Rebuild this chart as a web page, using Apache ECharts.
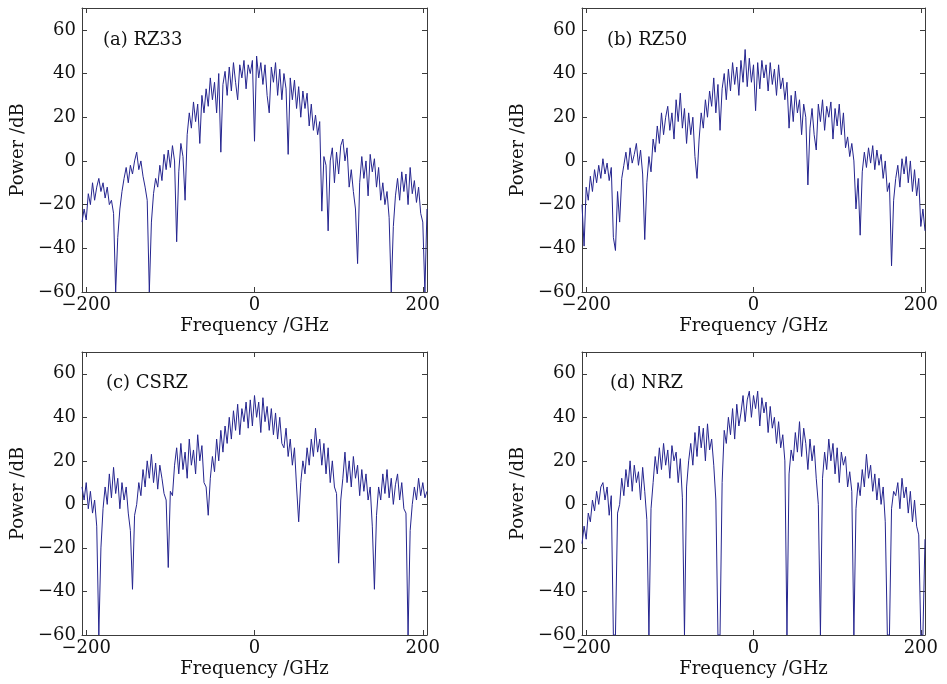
<!DOCTYPE html>
<html>
<head>
<meta charset="utf-8">
<script src="https://cdn.jsdelivr.net/npm/echarts@6/dist/echarts.min.js"></script>
<style>
  html, body { margin: 0; padding: 0; background: #fff; }
  #chart { width: 947px; height: 684px; }
</style>
</head>
<body>
<div id="chart"></div>
<script>
// frequency grid of every trace: -205 GHz .. 205 GHz, 2.5 GHz apart
const freqStart = -205
const freqStep = 2.5

// power (dB)
const rz33 = [
  -28, -22, -27, -15, -20, -10, -18, -12, -8, -14,
  -10, -17, -12, -20, -18, -24, -60, -35, -22, -14,
  -8, -3, -10, -2, -6, 0, 4, -4, 0, -7,
  -12, -18, -60, -28, -15, -8, -12, -2, -9, 3,
  -4, 5, -3, 7, 0, -37, -5, 8, 2, -18,
  12, 22, 15, 27, 18, 26, 8, 30, 22, 33,
  25, 38, 28, 36, 22, 40, 4, 35, 41, 30,
  43, 32, 45, 36, 28, 44, 38, 46, 33, 44,
  40, 46, 9, 48, 38, 45, 35, 44, 30, 22,
  43, 36, 45, 30, 42, 28, 40, 33, 3, 38,
  28, 37, 24, 34, 20, 32, 24, 31, 16, 26,
  14, 21, 12, 18, -23, 2, -2, -32, 0, 6,
  -10, 4, -6, 7, 10, 0, 6, -12, -4, -14,
  -22, -47, -10, 2, -8, 0, -16, 3, -5, 1,
  -12, -3, -18, -10, -20, -14, -26, -60, -30, -16,
  -8, -18, -5, -14, -6, -20, -3, -15, -9, -19,
  -12, -24, -28, -60, -22
]
const rz50 = [
  -20, -39, -12, -18, -7, -14, -4, -10, -2, -8,
  1, -6, -1, -9, -3, -35, -41, -14, -28, -8,
  -2, 4, -4, 6, -1, 3, 8, -2, 5, -6,
  -36, -10, 2, -5, 10, 4, 16, 8, 22, 12,
  20, 25, 14, 22, 10, 28, 18, 31, 15, 24,
  8, 22, 12, 20, 2, -8, 10, 22, 15, 28,
  20, 32, 25, 38, 22, 35, 14, 33, 40, 28,
  42, 32, 45, 35, 43, 30, 46, 36, 51, 34,
  47, 36, 44, 23, 45, 33, 46, 38, 44, 32,
  45, 35, 42, 30, 44, 33, 38, 28, 36, 15,
  30, 18, 32, 22, 28, 12, 26, 20, -11, 15,
  24, 12, 5, 26, 18, 28, 14, 25, 20, 27,
  10, 24, 16, 26, 12, 22, 6, 11, 2, 8,
  0, -22, -8, -34, -5, 4, -3, 6, -1, 7,
  -4, 5, -2, 3, -8, 0, -14, -10, -48, -18,
  -8, -2, -12, 1, -6, 2, -10, 0, -14, -4,
  -16, -8, -30, -22, -32
]
const csrz = [
  8, 2, 10, -2, 6, -4, 2, -10, -60, -20,
  -2, 8, 0, 14, 3, 17, 5, 12, -2, 10,
  2, 8, -4, -12, -39, -5, 0, 10, 4, 16,
  8, 20, 12, 23, 10, 19, 7, 18, 12, 5,
  2, -29, 6, 4, 18, 26, 14, 28, 16, 24,
  12, 30, 18, 25, 14, 32, 20, 27, 10, 8,
  -5, 12, 22, 15, 30, 20, 34, 24, 36, 28,
  40, 30, 43, 34, 46, 32, 44, 38, 47, 35,
  48, 36, 50, 40, 47, 33, 49, 38, 45, 34,
  44, 32, 42, 30, 40, 28, 26, 35, 22, 30,
  18, 26, 8, -8, 10, 20, 14, 26, 18, 30,
  22, 35, 24, 30, 18, 28, 14, 26, 10, 20,
  8, 5, -27, 2, 12, 24, 10, 20, 8, 22,
  12, 18, 4, 16, 6, 14, 2, 8, -10, -39,
  -5, 8, 2, 14, 5, 16, 3, 12, 0, 9,
  14, 2, 10, -2, -4, -60, -12, 0, 8, 2,
  12, 4, 10, 3, 6
]
const nrz = [
  -18, -10, -16, -4, -8, 2, -3, 6, 0, 8,
  10, 2, 8, -5, 4, -60, -60, -4, 0, 12,
  4, 16, 8, 20, 6, 18, 10, 15, 2, 17,
  6, -7, -60, -2, 10, 22, 14, 26, 16, 28,
  18, 25, 12, 27, 20, 24, 10, 21, 3, -60,
  8, 20, 28, 18, 33, 22, 36, 26, 35, 20,
  37, 25, 30, 18, 2, -60, -60, 10, 34, 28,
  40, 32, 44, 30, 46, 36, 42, 50, 38, 48,
  52, 40, 50, 44, 52, 36, 49, 42, 47, 33,
  45, 35, 40, 28, 38, 26, 32, 20, -60, 14,
  25, 20, 33, 24, 38, 22, 35, 28, 16, 30,
  20, 27, 12, 0, -60, 12, 24, 16, 30, 20,
  28, 14, 26, 10, 24, 18, 22, 8, 15, 6,
  -60, -2, 10, 4, 16, 8, 23, 12, 18, 6,
  14, 2, 12, 0, 8, -8, -60, -60, -2, 6,
  4, 10, -2, 12, 3, 8, -4, 6, -8, 2,
  -10, -14, -60, -60, -16
]

// tick labels
const freqTicks = [-200, 0, 200]
const powerMin = -60
const powerMax = 70
const powerStep = 20

const panels = [
  { label: '(a) RZ33', values: rz33, rect: { left: 82, top: 8, width: 345, height: 284 }, tag: [103, 31] },
  { label: '(b) RZ50', values: rz50, rect: { left: 582, top: 8, width: 343, height: 284 }, tag: [607, 31] },
  { label: '(c) CSRZ', values: csrz, rect: { left: 82, top: 352, width: 345, height: 283 }, tag: [106, 374] },
  { label: '(d) NRZ', values: nrz, rect: { left: 582, top: 352, width: 343, height: 283 }, tag: [610, 374] }
]

const FONT = '"DejaVu Serif", serif'
const INK = '#111'
const FRAME = '#3c3c3c'
const minus = (v) => String(v).replace('-', '\u2212')

const grid = []
const xAxis = []
const yAxis = []
const series = []
const graphic = []

panels.forEach((p, k) => {
  grid.push({ ...p.rect, containLabel: false })

  const frame = { show: true, onZero: false, lineStyle: { color: FRAME, width: 1 } }
  const tick = { show: true, inside: true, length: 5, lineStyle: { color: FRAME } }

  // bottom + top frequency axes
  xAxis.push({
    gridIndex: k, type: 'value', position: 'bottom', min: -205, max: 205,
    axisLine: frame,
    axisTick: { ...tick, customValues: freqTicks },
    axisLabel: { customValues: freqTicks, formatter: minus, fontFamily: FONT, fontSize: 18, color: INK, margin: 4 },
    splitLine: { show: false },
    name: 'Frequency /GHz', nameLocation: 'middle', nameGap: 25,
    nameTextStyle: { fontFamily: FONT, fontSize: 18, color: INK }
  })
  xAxis.push({
    gridIndex: k, type: 'value', position: 'top', min: -205, max: 205,
    axisLine: frame,
    axisTick: { ...tick, customValues: freqTicks },
    axisLabel: { show: false },
    splitLine: { show: false }
  })

  // left + right power axes
  yAxis.push({
    gridIndex: k, type: 'value', position: 'left', min: powerMin, max: powerMax, interval: powerStep,
    axisLine: frame,
    axisTick: tick,
    axisLabel: { formatter: (v) => (v === powerMax ? '' : minus(v)), fontFamily: FONT, fontSize: 18, color: INK, margin: 6 },
    splitLine: { show: false },
    name: 'Power /dB', nameLocation: 'middle', nameGap: 55,
    nameTextStyle: { fontFamily: FONT, fontSize: 18, color: INK }
  })
  yAxis.push({
    gridIndex: k, type: 'value', position: 'right', min: powerMin, max: powerMax, interval: powerStep,
    axisLine: frame,
    axisTick: tick,
    axisLabel: { show: false },
    splitLine: { show: false }
  })

  series.push({
    type: 'line',
    xAxisIndex: 2 * k,
    yAxisIndex: 2 * k,
    data: p.values.map((v, i) => [freqStart + i * freqStep, v]),
    showSymbol: false,
    symbol: 'none',
    clip: true,
    sampling: null,
    lineStyle: { color: '#25258f', width: 1 },
    emphasis: { disabled: true }
  })

  graphic.push({
    type: 'text', left: p.tag[0], top: p.tag[1],
    style: { text: p.label, font: '18px "DejaVu Serif"', fill: INK }
  })
})

const chart = echarts.init(document.getElementById('chart'), null, { renderer: 'canvas' })
chart.setOption({
  backgroundColor: '#fff',
  animation: false,
  textStyle: { fontFamily: FONT },
  grid, xAxis, yAxis, series, graphic
})
</script>
</body>
</html>
